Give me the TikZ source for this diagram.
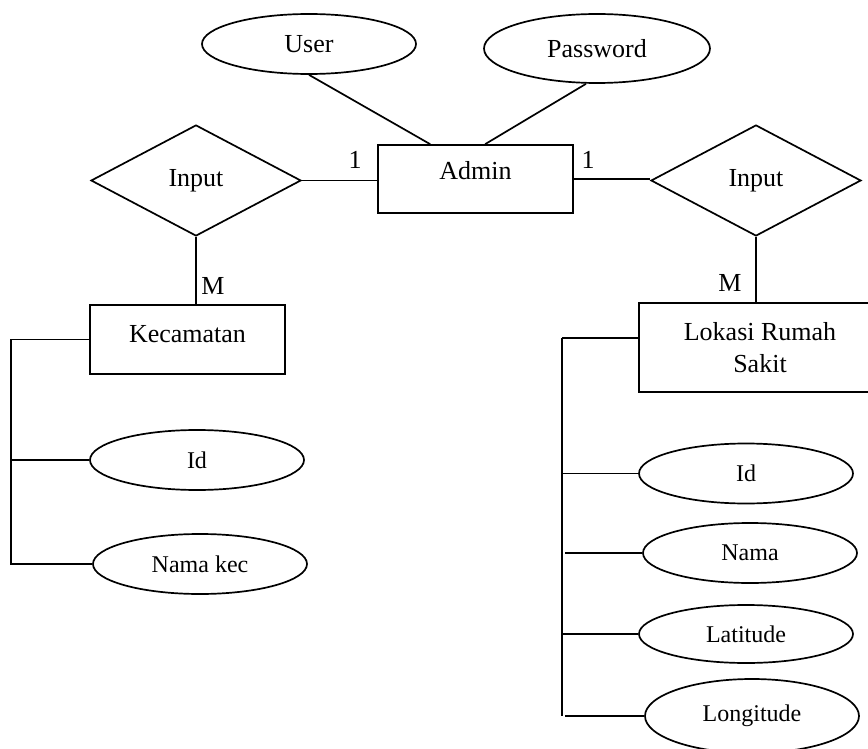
\documentclass[tikz,border=0pt]{standalone}
\usepackage{fontspec}
\setmainfont{Liberation Serif}
\usetikzlibrary{shapes.geometric}
\begin{document}
\begin{tikzpicture}[x=1pt,y=-1pt,
  line width=1.7pt,
  every node/.style={inner sep=0pt},
  bigtext/.style={font=\fontsize{26}{32}\selectfont},
  smalltext/.style={font=\fontsize{24}{30}\selectfont},
  attrib/.style={draw, ellipse, minimum width=214pt, minimum height=60pt},
  entitybox/.style={draw, rectangle},
  relation/.style={draw, diamond, minimum width=210pt, minimum height=111pt, bigtext},
  card/.style={bigtext}]
\useasboundingbox (0,0) rectangle (868,749);
\clip (0,0) rectangle (868,749);

% Admin entity and its attributes
\node[entitybox, minimum width=195pt, minimum height=68pt] (admin) at (475.5,179) {};
\node[bigtext, anchor=base] (admintxt) at (475.5,180) {Admin};
\node[attrib, bigtext] (user) at (309,44) {User};
\node[attrib, bigtext, minimum width=226pt, minimum height=69pt] (pass) at (597,48.5) {Password};
\draw ([xshift=0pt]user.south) -- ([xshift=53pt]admin.north west);
\draw ([xshift=-11pt]pass.south) -- ([xshift=108pt]admin.north west);

% Relationships
\node[relation] (relL) at (196,180.5) {Input};
\node[relation] (relR) at (756,180.5) {Input};
\draw (relL.east) -- (relL.east -| admin.west);
\draw (admin.east) -- (admin.east -| relR.west);
\node[card] (c1L) at (355,160) {1};
\node[card] (c1R) at (588,160) {1};

% Kecamatan entity
\node[entitybox, minimum width=195pt, minimum height=69pt] (kec) at (187.5,339.5) {};
\node[bigtext, anchor=base] (kectxt) at (187.5,342) {Kecamatan};
\draw (relL.south) -- (relL.south |- kec.north);
\node[card] (cML) at (213,286) {M};

\node[attrib, smalltext] (kid) at (197,460) {Id};
\node[attrib, smalltext] (knama) at (200,564) {Nama kec};
\coordinate (lbus) at (11,0);
\draw (kec.west) -- (kec.west -| lbus) -- (lbus |- knama.west) -- (knama.west);
\draw (lbus |- kid.west) -- (kid.west);

% Lokasi Rumah Sakit entity
\node[entitybox, minimum width=242pt, minimum height=89pt, bigtext, align=center] (lok) at (760,347.5) {Lokasi Rumah\\Sakit};
\draw (relR.south) -- (relR.south |- lok.north);
\node[card] (cMR) at (730,283) {M};

\node[attrib, smalltext] (rid) at (746,473.5) {Id};
\node[attrib, smalltext] (rnama) at (750,553) {Nama};
\node[attrib, smalltext, minimum height=58pt] (rlat) at (746,634) {Latitude};
\node[attrib, smalltext, minimum height=74pt] (rlong) at (752,716) {Longitude};
\coordinate (rbus) at (562,338);
\coordinate (rbusB) at (562,716);
\coordinate (rstub) at (565,0);
\draw (rbus) -- (rbusB);
\draw (rbus) -- (rbus -| lok.west);
\draw (rbus |- rid.west) -- (rid.west);
\draw (rstub |- rnama.west) -- (rnama.west);
\draw (rbus |- rlat.west) -- (rlat.west);
\draw (rstub |- rlong.west) -- (rlong.west);
\end{tikzpicture}
\end{document}
